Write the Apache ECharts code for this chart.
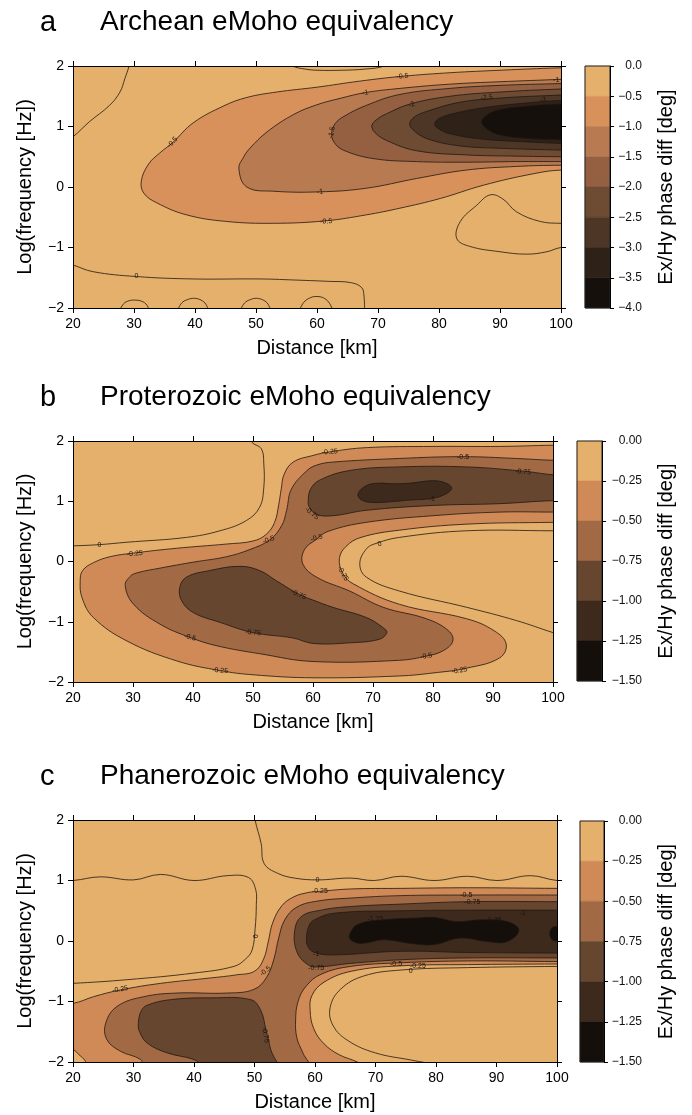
<!DOCTYPE html>
<html><head><meta charset="utf-8">
<script src="https://cdn.jsdelivr.net/npm/echarts@6/dist/echarts.min.js"></script>
<style>html,body{margin:0;padding:0;background:#fff}#c{width:692px;height:1115px}</style>
</head><body><div id="c"></div>
<script>
const FONT = "'Liberation Sans', Arial, Helvetica, sans-serif";
// ---------- axes / text ----------
const xTicks = [20,30,40,50,60,70,80,90,100];
const yTicks = [-2,-1,0,1,2];
const titles = ['Archean eMoho equivalency','Proterozoic eMoho equivalency','Phanerozoic eMoho equivalency'];
const letters = ['a','b','c'];
const xName = 'Distance [km]';
const yName = 'Log(frequency [Hz])';
const cbName = 'Ex/Hy phase diff [deg]';
// ---------- colour scales ----------
const levelsA = [0,-0.5,-1,-1.5,-2,-2.5,-3,-3.5,-4];
const colorsA = ['#E4B06C','#D8915A','#B77A51','#946041','#6E4B33','#4D3625','#2E2118','#15100C'];
const levelsB = [0,-0.25,-0.5,-0.75,-1,-1.25,-1.5];
const colorsB = ['#E4B06C','#D08A57','#A16944','#674630','#3D2A1D','#150F0B'];

// ---------- panel a contours (distance km, log f) ----------
const A_R05 = [[31.2,0.1],[32.4,0.38],[34.2,0.56],[36.4,0.74],[39.7,1.06],[44.7,1.34],[48.5,1.48],[53.4,1.57],[60,1.65],[67,1.75],[74,1.83],[82,1.89],[90,1.93],[97,1.96],[100,1.97],[104,1.98],[104,0.26],[100,0.28],[95.5,0.22],[87.3,0.03],[80.2,-0.19],[73.6,-0.35],[68.1,-0.46],[61.3,-0.56],[52.9,-0.6],[45.2,-0.57],[38.6,-0.46],[33.7,-0.26],[31.6,-0.1]];
const A_R10 = [[47.2,0.3],[48,0.5],[49,0.64],[51.8,0.91],[56.2,1.2],[60,1.36],[64,1.47],[67.9,1.56],[73.6,1.63],[81.8,1.7],[90,1.74],[100,1.78],[104,1.8],[104,0.35],[100,0.36],[92.7,0.34],[84.5,0.28],[76.3,0.14],[68.1,-0.02],[60.5,-0.08],[52.9,-0.07],[48.5,0.0]];
const A_R15 = [[62.4,0.89],[63,1.05],[64.3,1.16],[68.1,1.35],[73.6,1.53],[81.8,1.63],[90,1.68],[100,1.71],[104,1.72],[104,0.42],[100,0.42],[92.7,0.42],[84.5,0.41],[76.3,0.42],[69.2,0.47],[64.3,0.61],[62.8,0.74]];
const A_R20 = [[69,1.02],[70,1.13],[71.4,1.21],[75.2,1.37],[81.8,1.5],[90,1.57],[100,1.62],[104,1.63],[104,0.5],[100,0.5],[92.7,0.51],[84.5,0.53],[76.3,0.6],[71.4,0.77],[69.5,0.9]];
const A_R25 = [[75.2,1.05],[76,1.16],[78,1.25],[83.4,1.4],[90,1.47],[100,1.52],[104,1.53],[104,0.6],[100,0.61],[90,0.64],[83.4,0.68],[78,0.8],[75.7,0.95]];
const A_R30 = [[79.3,1.05],[80,1.13],[81.8,1.2],[87.3,1.31],[95.5,1.4],[100,1.43],[104,1.44],[104,0.71],[100,0.72],[95.5,0.74],[87.3,0.79],[81.8,0.88],[79.8,0.97]];
const A_R35 = [[87,1.08],[88,1.2],[90,1.28],[95,1.34],[100,1.37],[104,1.38],[104,0.78],[100,0.78],[95,0.8],[90,0.86],[88,0.95]];
const A_L0a = [[19,0.78],[20,0.83],[22.7,1.08],[26,1.35],[27.7,1.57],[28.5,1.79],[29.2,2.0],[29.4,2.1]];
const A_L0b = [[19,-1.27],[20,-1.29],[23.3,-1.4],[30.4,-1.48],[39.7,-1.52],[50.7,-1.52],[57,-1.54],[62,-1.56],[65.5,-1.58],[67.3,-1.66],[67.7,-1.8],[67.8,-2.1]];
const A_L0c = [[27.6,-2.05],[28.3,-1.93],[29.2,-1.88],[30.2,-1.87],[31.3,-1.89],[32.1,-1.95],[32.5,-2.05]];
const A_L0d = [[37.1,-2.05],[37.8,-1.92],[38.8,-1.86],[39.9,-1.84],[41,-1.87],[41.8,-1.94],[42.2,-2.05]];
const A_L0e = [[47.4,-2.05],[48.1,-1.92],[49.1,-1.86],[50.1,-1.84],[51.2,-1.87],[52,-1.94],[52.4,-2.05]];
const A_L0f = [[57.1,-2.05],[57.8,-1.91],[58.9,-1.83],[60,-1.81],[61.2,-1.84],[62.1,-1.93],[62.6,-2.05]];
const A_L0g = [[55,2.1],[56,2.0],[58,1.95],[60,1.93],[64,1.93],[68,1.95],[71,2.0],[72,2.1]];
const A_L0h = [[104,-0.6],[100,-0.6],[96.6,-0.57],[92.7,-0.41],[90.5,-0.2],[88.4,-0.13],[86.2,-0.3],[83.5,-0.57],[82.9,-0.85],[85,-0.98],[90,-1.07],[94.4,-1.11],[97.7,-1.07],[100,-1.0],[104,-0.98]];
const A_labels = [[36.3,0.74,'-0.5',48],[74,1.83,'-0.5',5],[67.9,1.56,'-1',8],[99.2,1.77,'-1',3],[62.4,0.9,'-1.5',80],[75.5,1.36,'-2',20],[87.8,1.48,'-2.5',5],[97,1.44,'-3',3],[60.5,-0.08,'-1',3],[61.5,-0.57,'-0.5',3],[30.4,-1.48,'0',0]];

// ---------- panel b contours ----------
const B_R025 = [[21.2,-0.32],[21.6,-0.15],[23.4,-0.02],[26.2,0.08],[30.1,0.14],[37.3,0.22],[45.6,0.29],[50,0.34],[52.2,0.45],[53.6,0.65],[54.3,0.95],[54.7,1.2],[55.2,1.45],[56.7,1.65],[60,1.76],[62.8,1.82],[68.9,1.89],[80,1.91],[91.1,1.91],[100,1.93],[104,1.93],[104,0.65],[100,0.65],[85.6,0.62],[74.4,0.52],[68,0.4],[65.5,0.25],[64.4,0.05],[65,-0.2],[66.7,-0.37],[74.4,-0.71],[85.6,-0.95],[90.2,-1.15],[92.2,-1.37],[91.1,-1.6],[85.6,-1.77],[80,-1.85],[74.4,-1.9],[60,-1.93],[50,-1.88],[44.5,-1.81],[37.3,-1.65],[29,-1.32],[23.4,-0.93],[21.5,-0.6]];
const B_R05 = [[28.7,-0.4],[29.5,-0.25],[30.6,-0.19],[34.5,-0.11],[40.1,-0.01],[45.6,0.08],[49.5,0.2],[52.8,0.36],[54.8,0.6],[55.6,0.85],[56.4,1.2],[58.9,1.5],[60.6,1.6],[63.3,1.65],[74.4,1.71],[85,1.74],[93.9,1.71],[100,1.68],[104,1.68],[104,0.82],[100,0.82],[91.1,0.82],[80,0.76],[68.9,0.65],[62.5,0.5],[60.6,0.37],[58.6,0.2],[58.3,-0.04],[60.6,-0.26],[66.1,-0.49],[71.7,-0.76],[78.9,-0.95],[82.6,-1.15],[83.3,-1.32],[81.7,-1.48],[78.9,-1.57],[74.4,-1.64],[60,-1.66],[51.1,-1.53],[44,-1.4],[39.5,-1.26],[34.5,-1.04],[30.1,-0.71]];
const B_R075u = [[59.2,1.01],[59.6,1.2],[61.1,1.35],[66.1,1.51],[74.4,1.57],[85.6,1.57],[95,1.5],[100,1.44],[104,1.43],[104,1.0],[100,1.01],[91.1,0.96],[80,0.93],[68.9,0.85],[63.3,0.76],[60.6,0.78],[59.4,0.9]];
const B_R075l = [[37.8,-0.43],[38.9,-0.26],[42.8,-0.15],[47.8,-0.08],[51.1,-0.15],[53.9,-0.32],[57.8,-0.55],[60,-0.64],[63.3,-0.76],[68.9,-0.93],[71.7,-1.1],[72.3,-1.18],[71.1,-1.29],[66.1,-1.35],[60,-1.36],[56.7,-1.27],[50,-1.18],[44.5,-1.01],[40.1,-0.85],[38.1,-0.65]];
const B_R10 = [[67.5,1.12],[68.9,1.26],[71,1.3],[73.3,1.29],[76.1,1.3],[80,1.34],[82.2,1.3],[83.1,1.21],[81.7,1.1],[79.4,1.04],[76.1,1.02],[72.8,0.99],[70,0.98],[68.1,1.02]];
const B_L0a = [[49.6,2.1],[49.8,1.98],[51.4,1.87],[51.8,1.62],[51.8,1.23],[51.1,0.9],[48.9,0.68],[44.5,0.51],[38.9,0.4],[29,0.32],[24.4,0.28],[20,0.26],[18,0.26]];
const B_L0b = [[104,0.51],[100,0.51],[85.6,0.51],[74.4,0.4],[70.5,0.3],[68.9,0.21],[67.8,-0.04],[68.9,-0.26],[74.4,-0.49],[85.6,-0.76],[93.9,-0.98],[100,-1.18],[104,-1.3]];
const B_labels = [[24.4,0.28,'0',0],[30.3,0.13,'-0.25',5],[52.6,0.36,'-0.5',20],[59.8,0.8,'-0.75',-40],[60.6,0.39,'-0.5',15],[57.6,-0.55,'-0.75',-25],[39.5,-1.26,'-0.5',-15],[50,-1.18,'-0.75',-5],[44.5,-1.81,'-0.25',-5],[62.8,1.82,'-0.25',5],[85,1.74,'-0.5',0],[95,1.49,'-0.75',-5],[79.8,1.03,'-1',0],[71.1,0.29,'0',15],[65,-0.2,'-0.25',-60],[78.9,-1.57,'-0.5',10],[84.4,-1.81,'-0.25',10]];

// ---------- panel c contours ----------
const C_R025 = [[16,-1.03],[20,-1.03],[23.4,-0.92],[27.8,-0.81],[34.5,-0.7],[42.8,-0.61],[47,-0.56],[50,-0.5],[51.5,-0.3],[52.3,0],[53,0.3],[54.5,0.58],[56.5,0.73],[58.8,0.8],[60.7,0.82],[65.9,0.86],[74.2,0.87],[85.2,0.88],[100,0.87],[104,0.87],[104,-0.38],[100,-0.38],[85.2,-0.39],[74.2,-0.41],[66,-0.5],[61.5,-0.68],[59.5,-0.9],[59.2,-1.15],[59.8,-1.45],[61.5,-1.7],[64,-1.88],[67,-2.0],[68.5,-2.1],[22.5,-2.1],[22,-1.98],[21,-1.88],[20,-1.8],[16,-1.78]];
const C_R05 = [[60.4,0.66],[65.9,0.71],[74.2,0.75],[85.2,0.76],[100,0.76],[104,0.76],[104,-0.34],[100,-0.34],[85.2,-0.33],[74.2,-0.36],[65.9,-0.42],[61,-0.55],[58.5,-0.75],[57.2,-1.0],[56.8,-1.3],[57,-1.6],[58,-1.85],[59,-2.1],[31.8,-2.1],[31.2,-1.96],[27.8,-1.82],[25.6,-1.63],[25.4,-1.36],[27.3,-1.08],[31.7,-0.92],[37.2,-0.86],[45.5,-0.86],[49.9,-0.8],[52,-0.6],[53.2,-0.3],[54,0.05],[55,0.35],[57,0.56]];
const C_R075l = [[30.8,-1.36],[31.3,-1.15],[32.3,-1.06],[36.1,-0.97],[42.8,-0.94],[49.4,-0.97],[51,-1.14],[51.9,-1.47],[52.7,-1.8],[53.6,-2.1],[42.5,-2.1],[40,-1.96],[35.6,-1.85],[32.3,-1.69],[31,-1.5]];
const C_R075r = [[57.7,0.4],[61,0.51],[65.9,0.57],[74.2,0.61],[85.2,0.65],[100,0.65],[104,0.65],[104,-0.28],[100,-0.28],[85.2,-0.28],[74.2,-0.31],[65.9,-0.37],[60.2,-0.43],[58.8,-0.39],[57.1,-0.2],[56.6,0.13]];
const C_R10 = [[58.6,0.02],[59,0.25],[59.9,0.35],[63.2,0.46],[74.2,0.5],[85.2,0.51],[100,0.51],[104,0.51],[104,-0.2],[100,-0.2],[85.2,-0.19],[74.2,-0.17],[63.2,-0.23],[60.2,-0.2],[59,-0.12]];
const C_R125 = [[65.7,0.1],[67,0.27],[71.4,0.35],[76.9,0.38],[79.7,0.39],[83.5,0.32],[87.4,0.35],[91.8,0.32],[93.7,0.18],[91.8,-0.01],[88.5,-0.01],[84,0.05],[79.7,-0.06],[75.8,-0.04],[71.4,0.02],[67.6,-0.04],[65.9,0.02]];
const C_R125b = [[99.2,0.22],[98.8,0.12],[99.2,0.02],[100,0],[104,0],[104,0.24],[100,0.24]];
const C_L0a = [[50.1,2.1],[50.1,2.0],[51.1,1.61],[51.6,1.28],[53.8,1.12],[56.6,1.04],[60.5,1.01],[65.9,1.04],[69.8,1.0],[74.2,1.07],[79.7,1.0],[85.2,1.07],[90.1,1.0],[95.6,1.08],[100,1.0],[104,1.0]];
const C_L0b = [[16,1.0],[20,1.0],[24.5,1.06],[30,1.01],[34.5,1.1],[40,1.0],[45.5,1.08],[49,1.05],[50.2,0.85],[50.3,0.6],[50.1,0.2],[49.6,-0.15],[48.5,-0.3],[46.6,-0.42],[40,-0.53],[28.9,-0.64],[20,-0.7],[16,-0.71]];
const C_L0c = [[104,-0.42],[100,-0.42],[85.2,-0.44],[74.2,-0.48],[68,-0.58],[64.2,-0.8],[62.5,-1.1],[63,-1.4],[65.5,-1.65],[70,-1.85],[76,-1.97],[80,-2.05],[81,-2.1]];
const C_labels = [[27.8,-0.8,'-0.25',10],[50,0.08,'0',-90],[51.8,-0.5,'-0.5',40],[51.8,-1.55,'-0.75',-80],[60.4,1.01,'0',0],[60.8,0.82,'-0.25',0],[85,0.76,'-0.5',0],[86,0.65,'-0.75',0],[94.3,0.46,'-1',0],[70,0.37,'-1.25',0],[89.5,0.34,'-1.25',0],[60.2,-0.22,'-1',0],[60.2,-0.45,'-0.75',0],[73.4,-0.38,'-0.5',0],[77,-0.41,'-0.25',0],[75.8,-0.5,'0',0]];

// ---------- assemble ----------
const panels = [
  {levels: levelsA, colors: colorsA, dec: 1,
   regions: [[A_R05,1],[A_R10,2],[A_R15,3],[A_R20,4],[A_R25,5],[A_R30,6],[A_R35,7]],
   lines: [A_L0a,A_L0b,A_L0c,A_L0d,A_L0e,A_L0f,A_L0g,A_L0h], labels: A_labels},
  {levels: levelsB, colors: colorsB, dec: 2,
   regions: [[B_R025,1],[B_R05,2],[B_R075u,3],[B_R075l,3],[B_R10,4]],
   lines: [B_L0a,B_L0b], labels: B_labels},
  {levels: levelsB, colors: colorsB, dec: 2,
   regions: [[C_R025,1],[C_R05,2],[C_R075l,3],[C_R075r,3],[C_R10,4],[C_R125,5],[C_R125b,5]],
   lines: [C_L0a,C_L0b,C_L0c], labels: C_labels}
];
// layout (pixels)
const plotRects = [{left:73,top:66,width:488,height:242},{left:73,top:441,width:480,height:241},{left:73,top:820,width:484,height:242}];
const cbRects = [{left:585,top:66,width:25,height:242},{left:577,top:441,width:25,height:240},{left:580,top:821,width:24,height:241}];
const cbNameGap = [46,54,52];
const cbLabelMargin = [32,40,38];
const titleTops = [8,383,762];

const minus = s => String(s).replace('-', '\u2212');
const gridsP = [], gridsC = [], xPlot = [], xCb = [], yPlot = [], yCb = [], series = [], titleArr = [];
const LINE = '#1f1811';

panels.forEach((P, i) => {
  const r = plotRects[i];
  gridsP.push({left:r.left, top:r.top, width:r.width, height:r.height, show:true, backgroundColor:P.colors[0], borderWidth:0});
  const ax = {type:'value', gridIndex:i, z:10, splitLine:{show:false},
    axisLine:{show:true, onZero:false, lineStyle:{color:'#000', width:1}},
    axisTick:{show:true, inside:false, length:5, lineStyle:{color:'#000', width:1}}};
  const xr = {min:xTicks[0], max:xTicks[xTicks.length-1], interval:xTicks[1]-xTicks[0]};
  const yr = {min:yTicks[0], max:yTicks[yTicks.length-1], interval:yTicks[1]-yTicks[0]};
  xPlot.push(Object.assign({}, ax, xr, {position:'bottom',
    axisLabel:{show:true, fontSize:14, color:'#000', fontFamily:FONT, margin:9},
    name:xName, nameLocation:'middle', nameGap:30, nameTextStyle:{fontSize:20, color:'#000', fontFamily:FONT}}));
  xPlot.push(Object.assign({}, ax, xr, {position:'top', axisLabel:{show:false}}));
  yPlot.push(Object.assign({}, ax, yr, {position:'left',
    axisLabel:{show:true, fontSize:14, color:'#000', fontFamily:FONT, margin:9, formatter:v=>minus(v)},
    name:yName, nameLocation:'middle', nameGap:38, nameTextStyle:{fontSize:20, color:'#000', fontFamily:FONT}}));
  yPlot.push(Object.assign({}, ax, yr, {position:'right', axisLabel:{show:false}}));

  const xi = 2*i, yi = 2*i;
  series.push({type:'custom', xAxisIndex:xi, yAxisIndex:yi, clip:true, z:2, silent:true,
    data: P.regions.map((g, k) => [g[0][0][0], g[0][0][1], k]),
    renderItem(params, api) {
      const g = P.regions[params.dataIndex];
      const pts = g[0].map(p => api.coord(p));
      return {type:'polygon', shape:{points:pts, smooth:0.4},
        style:{fill:P.colors[g[1]], stroke:LINE, lineWidth:0.8}};
    }});
  series.push({type:'custom', xAxisIndex:xi, yAxisIndex:yi, clip:true, z:3, silent:true,
    data: P.lines.map((l, k) => [l[0][0], l[0][1], k]),
    renderItem(params, api) {
      const l = P.lines[params.dataIndex];
      return {type:'polyline', shape:{points:l.map(p => api.coord(p)), smooth:0.4},
        style:{fill:'none', stroke:LINE, lineWidth:0.8}};
    }});
  series.push({type:'custom', xAxisIndex:xi, yAxisIndex:yi, clip:true, z:4, silent:true,
    data: P.labels.map(l => [l[0], l[1]]),
    renderItem(params, api) {
      const l = P.labels[params.dataIndex];
      const p = api.coord([l[0], l[1]]);
      return {type:'text', x:p[0], y:p[1], rotation:l[3]*Math.PI/180,
        style:{text:l[2], fill:'#1a140e', fontSize:7, fontFamily:FONT, align:'center', verticalAlign:'middle'}};
    }});

  // colour bar
  const c = cbRects[i];
  const gi = 3 + i;
  gridsC.push({left:c.left, top:c.top, width:c.width, height:c.height, show:false});
  xCb.push({type:'value', gridIndex:gi, min:0, max:1, show:false});
  yCb.push({type:'value', gridIndex:gi, position:'right', z:10,
    min:P.levels[P.levels.length-1], max:P.levels[0], interval:P.levels[0]-P.levels[1],
    splitLine:{show:false},
    axisLine:{show:true, onZero:false, lineStyle:{color:'#000', width:1}},
    axisTick:{show:true, length:4, lineStyle:{color:'#000'}},
    axisLabel:{show:true, fontSize:12, color:'#111', fontFamily:FONT, align:'right', margin:cbLabelMargin[i],
      formatter:v => minus(v.toFixed(P.dec))},
    name:cbName, nameLocation:'middle', nameRotate:90, nameGap:cbNameGap[i],
    nameTextStyle:{fontSize:20, color:'#000', fontFamily:FONT}});
  const bands = P.colors.map((col, k) => [0.5, (P.levels[k]+P.levels[k+1])/2, k]);
  series.push({type:'custom', xAxisIndex:6+i, yAxisIndex:6+i, z:2, silent:true,
    data: bands,
    renderItem(params, api) {
      const k = params.dataIndex;
      const a = api.coord([0, P.levels[k]]);
      const b = api.coord([1, P.levels[k+1]]);
      return {type:'rect', shape:{x:a[0], y:a[1], width:b[0]-a[0], height:b[1]-a[1]},
        style:{fill:P.colors[k], stroke:P.colors[k], lineWidth:0.5}};
    }});
  series.push({type:'custom', xAxisIndex:6+i, yAxisIndex:6+i, z:5, silent:true,
    data: [[0.5, P.levels[0]]],
    renderItem(params, api) {
      const a = api.coord([0, P.levels[0]]);
      const b = api.coord([1, P.levels[P.levels.length-1]]);
      return {type:'rect', shape:{x:a[0], y:a[1], width:b[0]-a[0], height:b[1]-a[1]},
        style:{fill:'none', stroke:'#222', lineWidth:1}};
    }});

  titleArr.push({text:letters[i], left:40, top:titleTops[i], padding:0,
    textStyle:{fontSize:29, fontWeight:'normal', color:'#000', fontFamily:FONT}});
  titleArr.push({text:titles[i], left:100, top:titleTops[i], padding:0,
    textStyle:{fontSize:28, fontWeight:'normal', color:'#000', fontFamily:FONT}});
});

const chart = echarts.init(document.getElementById('c'), null, {renderer:'canvas', width:692, height:1115});
chart.setOption({
  animation:false,
  backgroundColor:'#ffffff',
  title:titleArr,
  grid:gridsP.concat(gridsC),
  xAxis:xPlot.concat(xCb),
  yAxis:yPlot.concat(yCb),
  series:series
});
</script></body></html>
